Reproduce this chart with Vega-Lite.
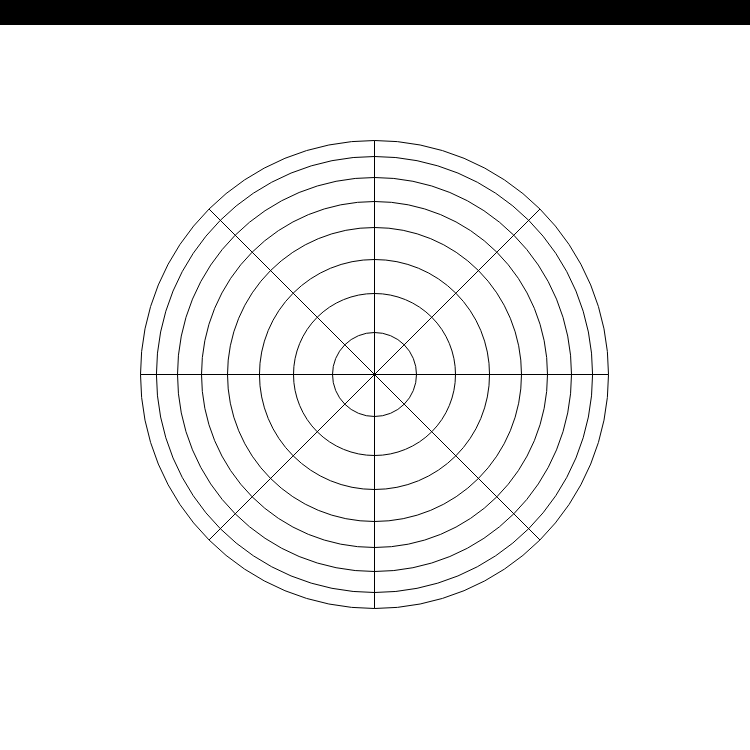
{
  "$schema": "https://vega.github.io/schema/vega-lite/v6.json",
  "width": 750,
  "height": 750,
  "autosize": {"type": "none"},
  "padding": 0,
  "background": "white",
  "config": {"view": {"stroke": null}},
  "datasets": {
    "header": [{"x": -374.5, "x2": 375.5, "y": 349.5, "y2": 374.5}],
    "spokes": [
      {"x": -234, "y": 0, "x2": 234, "y2": 0},
      {"x": 0, "y": -234, "x2": 0, "y2": 234},
      {"x": -165.5, "y": -165.5, "x2": 165.5, "y2": 165.5},
      {"x": -165.5, "y": 165.5, "x2": 165.5, "y2": -165.5}
    ],
    "rings": [
      {"r": 42}, {"r": 81}, {"r": 115}, {"r": 147},
      {"r": 173}, {"r": 197}, {"r": 218}, {"r": 234}
    ]
  },
  "layer": [
    {
      "data": {"name": "header"},
      "mark": {"type": "rect", "color": "black"},
      "encoding": {
        "x": {"field": "x", "type": "quantitative", "scale": {"domain": [-374.5, 375.5], "nice": false, "zero": false}, "axis": null},
        "x2": {"field": "x2"},
        "y": {"field": "y", "type": "quantitative", "scale": {"domain": [-375.5, 374.5], "nice": false, "zero": false}, "axis": null},
        "y2": {"field": "y2"}
      }
    },
    {
      "data": {"name": "spokes"},
      "mark": {"type": "rule", "color": "black", "strokeWidth": 1},
      "encoding": {
        "x": {"field": "x", "type": "quantitative"},
        "x2": {"field": "x2"},
        "y": {"field": "y", "type": "quantitative"},
        "y2": {"field": "y2"}
      }
    },
    {
      "data": {"name": "rings"},
      "mark": {"type": "arc", "filled": false, "stroke": "black", "strokeWidth": 1, "theta": 0, "theta2": 6.283185307179586},
      "encoding": {
        "x": {"datum": 0, "type": "quantitative"},
        "y": {"datum": 0, "type": "quantitative"},
        "radius": {"field": "r", "type": "quantitative", "stack": null, "scale": {"type": "linear", "domain": [0, 375], "range": [0, 375], "zero": true}, "legend": null}
      }
    }
  ]
}
